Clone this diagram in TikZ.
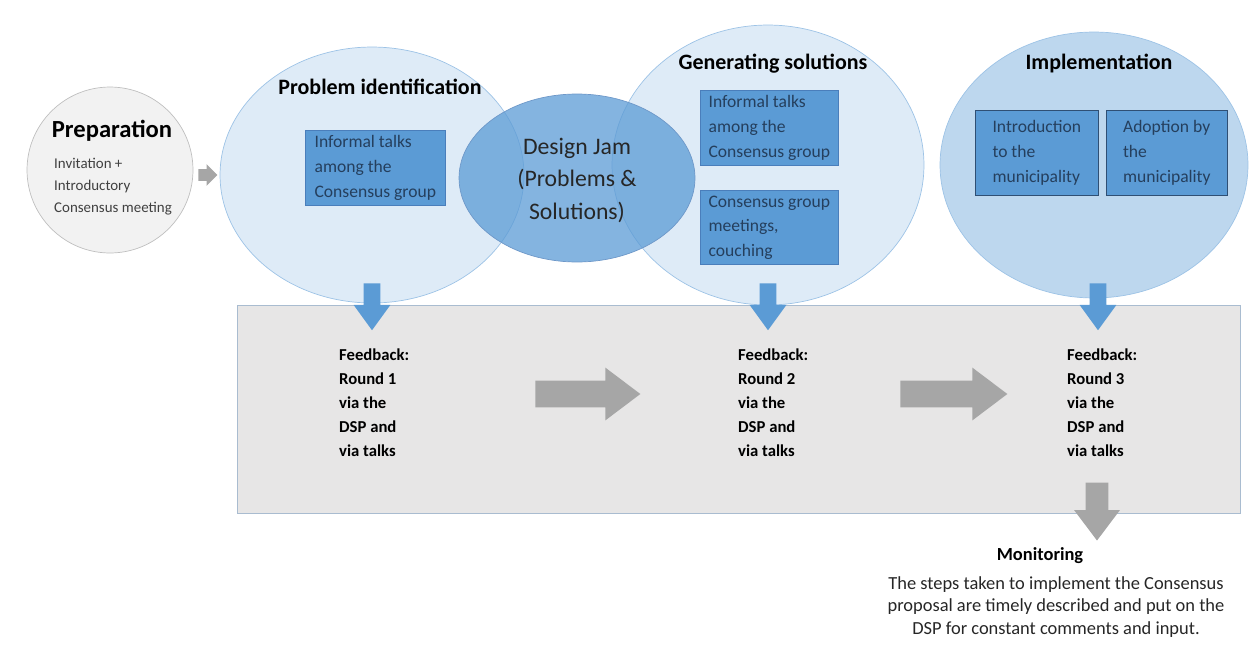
\documentclass[tikz,border=0pt]{standalone}
\usepackage{fontspec}
\setmainfont{Carlito}
\usepackage{xcolor}
\definecolor{prepfill}{HTML}{F2F2F2}
\definecolor{prepline}{HTML}{BFBFBF}
\definecolor{phasefill}{HTML}{DEEBF7}
\definecolor{phaseline}{HTML}{9DC3E6}
\definecolor{implfill}{HTML}{BDD7EE}
\definecolor{midblue}{HTML}{5B9BD5}
\definecolor{boxline}{HTML}{4A7EBB}
\definecolor{darkline}{HTML}{2F4F74}
\definecolor{panelfill}{HTML}{E7E6E6}
\definecolor{panelline}{HTML}{A9BCD0}
\definecolor{arrowgray}{HTML}{A6A6A6}
\usetikzlibrary{shapes.geometric, shapes.arrows, positioning}
\tikzset{
  phase/.style={ellipse, draw=phaseline, fill=phasefill, inner sep=0pt},
  taskbox/.style={draw=boxline, fill=midblue, text=darkline!80!black, align=left,
    font=\fontsize{10}{14}\selectfont, inner sep=3pt, anchor=north west},
  title/.style={font=\fontsize{12.5}{15}\selectfont\bfseries},
  feedback/.style={font=\fontsize{9.5}{13.6}\selectfont\bfseries, align=left, anchor=north west},
  downblue/.style={single arrow, fill=midblue, shape border rotate=270, inner sep=0.16cm,
    minimum width=0.72cm, single arrow head extend=0.2cm, single arrow tip angle=72},
  rightgray/.style={single arrow, fill=arrowgray, inner sep=0.26cm,
    minimum width=1.04cm, single arrow head extend=0.26cm, single arrow tip angle=74}
}
\begin{document}
\begin{tikzpicture}[x=0.02cm, y=-0.02cm]
\useasboundingbox (0,0) rectangle (1253,646);

% Feedback panel
\node[draw=panelline, fill=panelfill, minimum width=20.06cm, minimum height=4.16cm, inner sep=0pt] (panel) at (738.5,409) {};

% Phase circles
\node[circle, draw=prepline, fill=prepfill, minimum size=3.32cm, inner sep=0pt] (prep) at (110,170) {};
\node[phase, minimum width=6.08cm, minimum height=5.12cm] (probid) at (372,175) {};
\node[phase, minimum width=6.24cm, minimum height=5.6cm] (gensol) at (768,165) {};
\node[phase, fill=implfill, minimum width=6.16cm, minimum height=5.32cm] (impl) at (1094,165) {};
\node[ellipse, draw=boxline!80, fill=midblue, fill opacity=0.75, minimum width=4.72cm, minimum height=3.36cm] (jam) at (577,178) {};

% Titles
\node[title, font=\fontsize{14}{16}\selectfont\bfseries] (preptitle) at (112,131) {Preparation};
\node[font=\fontsize{8.5}{12.5}\selectfont, text=black!75, align=left, anchor=north west] (preptext) at (48,152) {Invitation +\\Introductory\\Consensus meeting};
\node[title] (probtitle) at (380,87) {Problem identification};
\node[title] (gentitle) at (773,64) {Generating solutions};
\node[title] (impltitle) at (1099,64) {Implementation};
\node[font=\fontsize{13.5}{18.5}\selectfont, text=black!85, align=center] (jamtext) at (577,180) {Design Jam\\(Problems \&\\Solutions)};

% Task boxes
\node[taskbox, minimum width=2.8cm, minimum height=1.5cm] (talks1) at (305,130) {Informal talks\\among the\\Consensus group};
\node[taskbox, minimum width=2.76cm, minimum height=1.5cm] (talks2) at (700,90) {Informal talks\\among the\\Consensus group};
\node[taskbox, minimum width=2.76cm, minimum height=1.46cm] (meetings) at (700,190) {Consensus group\\meetings,\\couching};
\node[taskbox, draw=darkline, minimum width=2.46cm, minimum height=1.7cm] (intro) at (975,110) {Introduction\\to the\\municipality};
\node[taskbox, draw=darkline, minimum width=2.42cm, minimum height=1.7cm] (adopt) at (1106,110) {Adoption by\\the\\municipality};

% Arrows
\node[single arrow, fill=arrowgray, inner sep=0.11cm, minimum width=0.42cm, minimum height=0.38cm,
  single arrow head extend=0.1cm] (preparrow) at (205,175) {};
\node[downblue, minimum height=0.94cm] (down1) at (372,301) {};
\node[downblue, minimum height=0.94cm] (down2) at (768,301) {};
\node[downblue, minimum height=0.94cm] (down3) at (1098,301) {};

% Feedback rounds
\node[feedback] (round1) at (333,343) {Feedback:\\Round 1\\via the\\DSP and\\via talks};
\node[feedback] (round2) at (732,343) {Feedback:\\Round 2\\via the\\DSP and\\via talks};
\node[feedback] (round3) at (1061,343) {Feedback:\\Round 3\\via the\\DSP and\\via talks};
\node[rightgray, minimum height=2.1cm] (next1) at (579,394) {};
\node[rightgray, minimum height=2.14cm] (next2) at (945,394) {};
\node[rightgray, shape border rotate=270, inner sep=0.22cm, minimum width=0.9cm, single arrow head extend=0.23cm,
  minimum height=1.16cm] (down4) at (1097,504) {};

% Monitoring
\node[font=\fontsize{10.5}{13}\selectfont\bfseries] (montitle) at (1040,556) {Monitoring};
\node[font=\fontsize{10.5}{12.8}\selectfont, align=center, text=black!85] (montext) at (1056,607) {The steps taken to implement the Consensus\\proposal are timely described and put on the\\DSP for constant comments and input.};
\end{tikzpicture}
\end{document}
